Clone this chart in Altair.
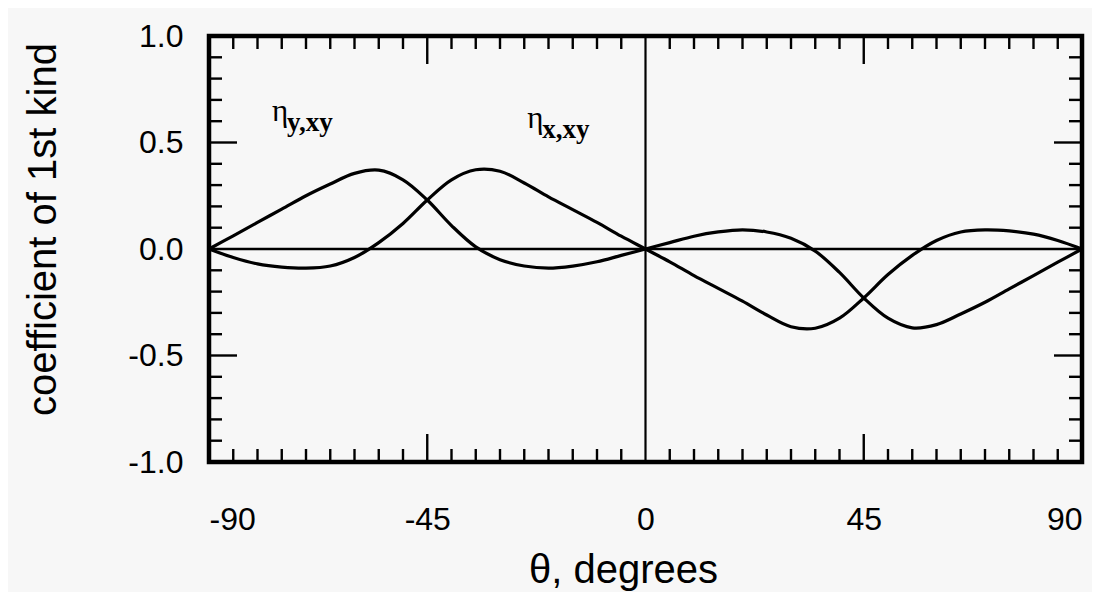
import altair as alt
import pandas as pd

# ---- data ----
theta = [-90, -85, -80, -75, -70, -65, -60, -55, -50, -45, -40, -35, -30, -25, -20, -15, -10, -5, 0,
         5, 10, 15, 20, 25, 30, 35, 40, 45, 50, 55, 60, 65, 70, 75, 80, 85, 90]

eta_y_xy = [0.0, 0.062, 0.125, 0.187, 0.25, 0.305, 0.355, 0.37, 0.325, 0.23, 0.11, 0.01, -0.05, -0.08,
            -0.09, -0.08, -0.06, -0.03, 0.0,
            0.03, 0.06, 0.08, 0.09, 0.08, 0.05, -0.01, -0.11, -0.23, -0.325, -0.37, -0.355, -0.305,
            -0.25, -0.187, -0.125, -0.062, 0.0]

eta_x_xy = [0.0, -0.04, -0.07, -0.085, -0.09, -0.08, -0.04, 0.03, 0.12, 0.23, 0.325, 0.372, 0.365,
            0.31, 0.245, 0.185, 0.125, 0.06, 0.0,
            -0.06, -0.125, -0.185, -0.245, -0.31, -0.365, -0.372, -0.325, -0.23, -0.12, -0.03, 0.04,
            0.08, 0.09, 0.085, 0.07, 0.04, 0.0]

x_tick_labels = [-90, -45, 0, 45, 90]
y_tick_labels = [-1.0, -0.5, 0.0, 0.5, 1.0]
x_minor_ticks = [-85, -80, -75, -70, -65, -60, -55, -50, -40, -35, -30, -25, -20, -15, -10, -5,
                 5, 10, 15, 20, 25, 30, 35, 40, 50, 55, 60, 65, 70, 75, 80, 85]
x_major_ticks = [-45, 45]
y_minor_ticks = [-0.9, -0.8, -0.7, -0.6, -0.4, -0.3, -0.2, -0.1, 0.1, 0.2, 0.3, 0.4, 0.6, 0.7, 0.8, 0.9]
y_major_ticks = [-0.5, 0.5]

label_main = ["η", "η"]
label_sub = ["y,xy", "x,xy"]
label_theta = [-77.0, -24.4]
label_value = [0.60, 0.57]

# ---- layout ----
W, H = 873, 426
MINOR, MAJOR = 13, 28
FONT = "Liberation Sans"

xscale = alt.Scale(domain=[-90, 90], nice=False, zero=False)
yscale = alt.Scale(domain=[-1, 1], nice=False, zero=False)

xaxis = alt.Axis(values=x_tick_labels, title="θ, degrees", grid=False, ticks=False,
                 domain=False, labelFontSize=32, labelFont=FONT,
                 labelColor="black", labelPadding=42, labelFlush=True,
                 labelExpr="replace(datum.label, '−', '-')",
                 titleFont=FONT, titleFontSize=40, titleFontWeight="normal",
                 titleColor="black", titleX=414, titleY=120, titleAlign="center",
                 titleBaseline="alphabetic")
yaxis = alt.Axis(values=y_tick_labels, title="coefficient of 1st kind", grid=False,
                 ticks=False, domain=False, labelFontSize=32, labelFont=FONT,
                 labelColor="black", labelPadding=26, format=".1f",
                 labelExpr="replace(datum.label, '−', '-')",
                 titleFont=FONT, titleFontSize=40, titleFontWeight="normal",
                 titleColor="black", titleX=-154, titleY=193, titleAlign="center",
                 titleBaseline="alphabetic", titleAngle=270)


def X(field):
    return alt.X(field, scale=xscale, axis=xaxis)


def Y(field):
    return alt.Y(field, scale=yscale, axis=yaxis)


df = pd.DataFrame({
    "theta": theta * 2,
    "value": eta_y_xy + eta_x_xy,
    "series": ["eta_y_xy"] * len(theta) + ["eta_x_xy"] * len(theta),
})

curves = alt.Chart(df).mark_line(color="black", strokeWidth=3.2, interpolate="catmull-rom").encode(
    x=X("theta:Q"), y=Y("value:Q"), detail="series:N")

zero_line = alt.Chart(pd.DataFrame({"y": [0.0]})).mark_rule(color="black", strokeWidth=2.5).encode(
    y=Y("y:Q"))
vert_line = alt.Chart(pd.DataFrame({"x": [0.0]})).mark_rule(color="black", strokeWidth=2.2).encode(
    x=X("x:Q"))


def xticks(vals, length):
    d = pd.DataFrame({"t": vals})
    bottom = alt.Chart(d).mark_rule(color="black", strokeWidth=2.4).encode(
        x=X("t:Q"), y=alt.value(H), y2=alt.value(H - length))
    top = alt.Chart(d).mark_rule(color="black", strokeWidth=2.4).encode(
        x=X("t:Q"), y=alt.value(0), y2=alt.value(length))
    return [bottom, top]


def yticks(vals, length):
    d = pd.DataFrame({"t": vals})
    left = alt.Chart(d).mark_rule(color="black", strokeWidth=2.4).encode(
        y=Y("t:Q"), x=alt.value(0), x2=alt.value(length))
    right = alt.Chart(d).mark_rule(color="black", strokeWidth=2.4).encode(
        y=Y("t:Q"), x=alt.value(W), x2=alt.value(W - length))
    return [left, right]


lab = pd.DataFrame({"x": label_theta, "y": label_value, "main": label_main, "sub": label_sub})
eta_text = alt.Chart(lab).mark_text(font="Liberation Serif", fontSize=31, align="left",
                                    baseline="alphabetic", color="black").encode(
    x=X("x:Q"), y=Y("y:Q"), text="main:N")
sub_text = alt.Chart(lab).mark_text(font="Liberation Serif", fontSize=27, fontWeight="bold",
                                    align="left", baseline="alphabetic", dx=15, dy=10,
                                    color="black").encode(
    x=X("x:Q"), y=Y("y:Q"), text="sub:N")

layers = [curves, zero_line, vert_line]
layers += xticks(x_minor_ticks, MINOR) + xticks(x_major_ticks, MAJOR)
layers += yticks(y_minor_ticks, MINOR) + yticks(y_major_ticks, MAJOR)
layers += [eta_text, sub_text]

chart = alt.layer(*layers).properties(
    width=W, height=H,
    autosize=alt.AutoSizeParams(type="none"),
    padding={"left": 201, "top": 28, "right": 10, "bottom": 130},
    background="#f7f7f7",
).configure_view(stroke="black", strokeWidth=4.5)

chart.save("out.html", embed_options={"renderer": "svg", "actions": False})
